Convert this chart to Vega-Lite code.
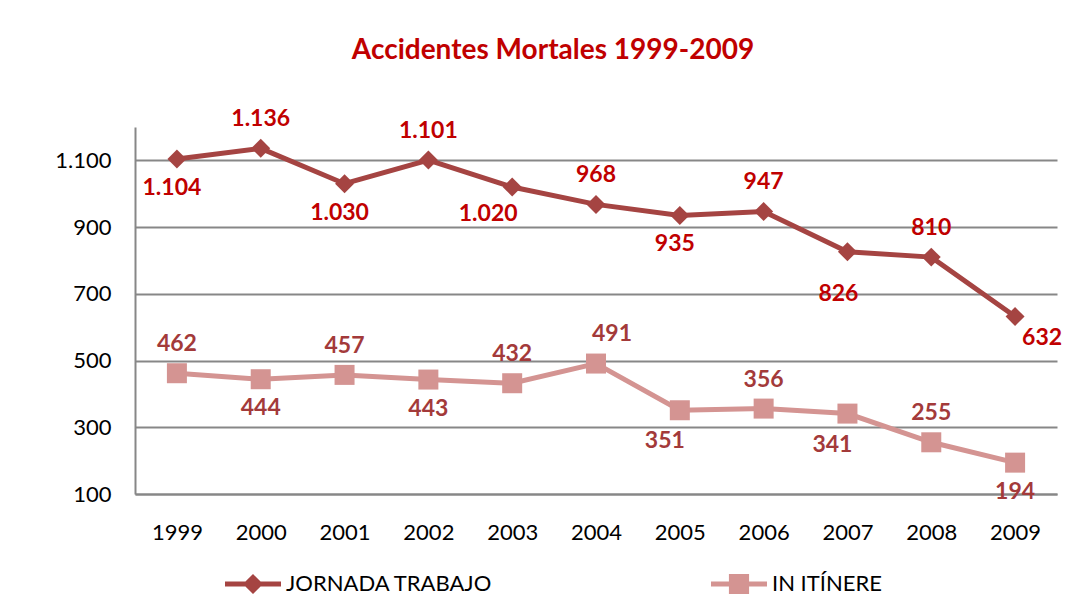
{
  "$schema": "https://vega.github.io/schema/vega-lite/v6.json",
  "width": 922,
  "height": 367,
  "autosize": "none",
  "padding": {"left": 135, "top": 127, "right": 29, "bottom": 112},
  "background": "white",
  "config": {
    "locale": {"number": {"decimal": ",", "thousands": ".", "grouping": [3], "currency": ["", " €"]}},
    "view": {"stroke": null},
    "font": "Lato"
  },
  "title": {
    "text": "Accidentes Mortales 1999-2009",
    "color": "#C00000",
    "font": "Lato",
    "fontSize": 28,
    "fontWeight": "bold",
    "anchor": "middle",
    "frame": "group",
    "dx": -43,
    "offset": 43
  },
  "data": {
    "values": [
      {"year": "1999", "series": "JORNADA  TRABAJO", "value": 1104},
      {"year": "2000", "series": "JORNADA  TRABAJO", "value": 1136},
      {"year": "2001", "series": "JORNADA  TRABAJO", "value": 1030},
      {"year": "2002", "series": "JORNADA  TRABAJO", "value": 1101},
      {"year": "2003", "series": "JORNADA  TRABAJO", "value": 1020},
      {"year": "2004", "series": "JORNADA  TRABAJO", "value": 968},
      {"year": "2005", "series": "JORNADA  TRABAJO", "value": 935},
      {"year": "2006", "series": "JORNADA  TRABAJO", "value": 947},
      {"year": "2007", "series": "JORNADA  TRABAJO", "value": 826},
      {"year": "2008", "series": "JORNADA  TRABAJO", "value": 810},
      {"year": "2009", "series": "JORNADA  TRABAJO", "value": 632},
      {"year": "1999", "series": "IN ITÍNERE", "value": 462},
      {"year": "2000", "series": "IN ITÍNERE", "value": 444},
      {"year": "2001", "series": "IN ITÍNERE", "value": 457},
      {"year": "2002", "series": "IN ITÍNERE", "value": 443},
      {"year": "2003", "series": "IN ITÍNERE", "value": 432},
      {"year": "2004", "series": "IN ITÍNERE", "value": 491},
      {"year": "2005", "series": "IN ITÍNERE", "value": 351},
      {"year": "2006", "series": "IN ITÍNERE", "value": 356},
      {"year": "2007", "series": "IN ITÍNERE", "value": 341},
      {"year": "2008", "series": "IN ITÍNERE", "value": 255},
      {"year": "2009", "series": "IN ITÍNERE", "value": 194}
    ]
  },
  "encoding": {
    "x": {
      "field": "year",
      "type": "ordinal",
      "scale": {"type": "point", "padding": 0.5},
      "axis": {
        "title": null,
        "labelAngle": 0,
        "labelFont": "Lato",
        "labelFontSize": 22,
        "labelColor": "#000000",
        "labelPadding": 28,
        "ticks": false,
        "domain": true,
        "domainColor": "#878787",
        "domainWidth": 2,
        "grid": false
      }
    },
    "y": {
      "field": "value",
      "type": "quantitative",
      "scale": {"domain": [100, 1200], "nice": false, "zero": false},
      "axis": {
        "title": null,
        "values": [100, 300, 500, 700, 900, 1100],
        "format": ",.0f",
        "labelFont": "Lato",
        "labelFontSize": 22,
        "labelColor": "#000000",
        "labelPadding": 24,
        "ticks": false,
        "domain": true,
        "domainColor": "#878787",
        "domainWidth": 2,
        "grid": true,
        "gridColor": "#878787",
        "gridWidth": 2
      }
    }
  },
  "layer": [
    {
      "mark": {"type": "line", "strokeWidth": 5},
      "encoding": {
        "color": {
          "field": "series",
          "type": "nominal",
          "sort": ["JORNADA  TRABAJO", "IN ITÍNERE"],
          "scale": {"domain": ["JORNADA  TRABAJO", "IN ITÍNERE"], "range": ["#A54442", "#D49492"]},
          "legend": {
            "title": null,
            "orient": "none",
            "legendX": 90,
            "legendY": 429,
            "direction": "horizontal",
            "columnPadding": 212,
            "padding": 0,
            "symbolSize": 3136,
            "labelFont": "Lato",
            "labelFontSize": 22,
            "labelColor": "#000000",
            "labelOffset": 5,
            "labelLimit": 0,
            "encode": {
              "symbols": {
                "update": {
                  "shape": {"signal": "datum.value == 'IN ITÍNERE' ? 'M-1,-0.09L-0.36,-0.09L-0.36,-0.36L0.36,-0.36L0.36,-0.09L1,-0.09L1,0.09L0.36,0.09L0.36,0.36L-0.36,0.36L-0.36,0.09L-1,0.09Z' : 'M-1,-0.09L-0.27,-0.09L0,-0.36L0.27,-0.09L1,-0.09L1,0.09L0.27,0.09L0,0.36L-0.27,0.09L-1,0.09Z'"},
                  "size": {"value": 3136},
                  "fill": {"signal": "scale('color', datum.value)"},
                  "fillOpacity": {"value": 1},
                  "strokeWidth": {"value": 0}
                }
              }
            }
          }
        }
      }
    },
    {
      "transform": [{"filter": "datum.series == 'JORNADA  TRABAJO'"}],
      "mark": {"type": "point", "shape": "diamond", "filled": true, "size": 360, "opacity": 1, "color": "#A54442", "strokeWidth": 0}
    },
    {
      "transform": [{"filter": "datum.series == 'IN ITÍNERE'"}],
      "mark": {"type": "point", "shape": "square", "filled": true, "size": 400, "opacity": 1, "color": "#D49492", "strokeWidth": 0}
    },
    {
      "transform": [{"filter": "datum.series == 'JORNADA  TRABAJO' && indexof(['2000','2002','2004','2006','2008'], datum.year) >= 0"}],
      "mark": {"type": "text", "font": "Lato", "fontSize": 23, "fontWeight": "bold", "color": "#C00000", "baseline": "middle", "align": "center", "dy": -29},
      "encoding": {"text": {"field": "value", "type": "quantitative", "format": ",.0f"}}
    },
    {
      "transform": [{"filter": "datum.series == 'JORNADA  TRABAJO' && indexof(['1999','2001','2005'], datum.year) >= 0"}],
      "mark": {"type": "text", "font": "Lato", "fontSize": 23, "fontWeight": "bold", "color": "#C00000", "baseline": "middle", "align": "center", "dx": -5, "dy": 29},
      "encoding": {"text": {"field": "value", "type": "quantitative", "format": ",.0f"}}
    },
    {
      "transform": [{"filter": "datum.series == 'JORNADA  TRABAJO' && datum.year == '2003'"}],
      "mark": {"type": "text", "font": "Lato", "fontSize": 23, "fontWeight": "bold", "color": "#C00000", "baseline": "middle", "align": "center", "dx": -24, "dy": 27},
      "encoding": {"text": {"field": "value", "type": "quantitative", "format": ",.0f"}}
    },
    {
      "transform": [{"filter": "datum.series == 'JORNADA  TRABAJO' && datum.year == '2007'"}],
      "mark": {"type": "text", "font": "Lato", "fontSize": 23, "fontWeight": "bold", "color": "#C00000", "baseline": "middle", "align": "center", "dx": -9, "dy": 42},
      "encoding": {"text": {"field": "value", "type": "quantitative", "format": ",.0f"}}
    },
    {
      "transform": [{"filter": "datum.series == 'JORNADA  TRABAJO' && datum.year == '2009'"}],
      "mark": {"type": "text", "font": "Lato", "fontSize": 23, "fontWeight": "bold", "color": "#C00000", "baseline": "middle", "align": "center", "dx": 27, "dy": 21},
      "encoding": {"text": {"field": "value", "type": "quantitative", "format": ",.0f"}}
    },
    {
      "transform": [{"filter": "datum.series == 'IN ITÍNERE' && indexof(['1999','2001','2003','2006','2008'], datum.year) >= 0"}],
      "mark": {"type": "text", "font": "Lato", "fontSize": 23, "fontWeight": "bold", "color": "#A33A3A", "baseline": "middle", "align": "center", "dy": -29},
      "encoding": {"text": {"field": "value", "type": "quantitative", "format": ",.0f"}}
    },
    {
      "transform": [{"filter": "datum.series == 'IN ITÍNERE' && datum.year == '2004'"}],
      "mark": {"type": "text", "font": "Lato", "fontSize": 23, "fontWeight": "bold", "color": "#A33A3A", "baseline": "middle", "align": "center", "dx": 16, "dy": -30},
      "encoding": {"text": {"field": "value", "type": "quantitative", "format": ",.0f"}}
    },
    {
      "transform": [{"filter": "datum.series == 'IN ITÍNERE' && indexof(['2000','2002','2009'], datum.year) >= 0"}],
      "mark": {"type": "text", "font": "Lato", "fontSize": 23, "fontWeight": "bold", "color": "#A33A3A", "baseline": "middle", "align": "center", "dy": 29},
      "encoding": {"text": {"field": "value", "type": "quantitative", "format": ",.0f"}}
    },
    {
      "transform": [{"filter": "datum.series == 'IN ITÍNERE' && indexof(['2005','2007'], datum.year) >= 0"}],
      "mark": {"type": "text", "font": "Lato", "fontSize": 23, "fontWeight": "bold", "color": "#A33A3A", "baseline": "middle", "align": "center", "dx": -15, "dy": 31},
      "encoding": {"text": {"field": "value", "type": "quantitative", "format": ",.0f"}}
    }
  ]
}
